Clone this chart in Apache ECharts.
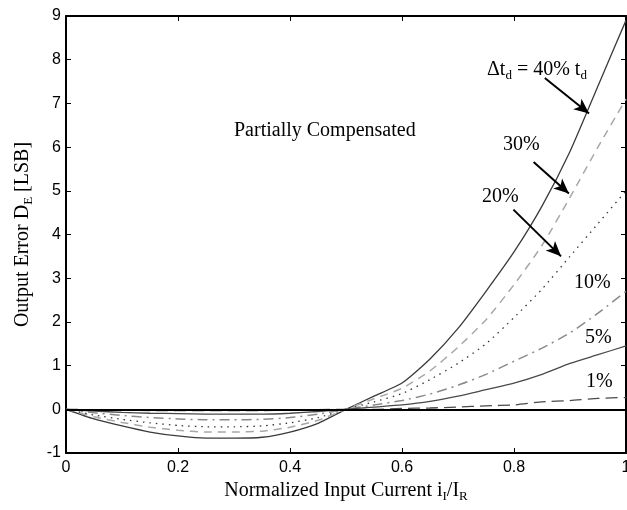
<!DOCTYPE html>
<html>
<head>
<meta charset="utf-8">
<script src="https://cdn.jsdelivr.net/npm/echarts@6/dist/echarts.min.js"></script>
<style>
  html, body { margin: 0; padding: 0; background: #fff; }
  #chart { width: 627px; height: 510px; }
</style>
</head>
<body>
<div id="chart"></div>
<script>
// normalized input current
var xs = [0, 0.05, 0.1, 0.15, 0.2, 0.25, 0.3, 0.35, 0.4, 0.45, 0.5,
          0.55, 0.6, 0.65, 0.7, 0.75, 0.8, 0.85, 0.9, 0.95, 1.0];

// output error per delay mismatch
var err40 = [0, -0.22, -0.38, -0.52, -0.61, -0.66, -0.66, -0.64, -0.52, -0.32, 0,
             0.3, 0.6, 1.15, 1.85, 2.7, 3.6, 4.65, 5.9, 7.4, 8.9];
var err30 = [0, -0.17, -0.30, -0.41, -0.48, -0.52, -0.52, -0.50, -0.41, -0.25, 0,
             0.24, 0.48, 0.88, 1.42, 2.05, 2.85, 3.75, 4.85, 6.0, 7.1];
var err20 = [0, -0.13, -0.23, -0.31, -0.37, -0.40, -0.40, -0.38, -0.31, -0.19, 0,
             0.17, 0.36, 0.68, 1.05, 1.5, 2.1, 2.75, 3.5, 4.25, 5.0];
var err10 = [0, -0.08, -0.14, -0.19, -0.22, -0.24, -0.24, -0.23, -0.19, -0.11, 0,
             0.1, 0.2, 0.35, 0.55, 0.8, 1.1, 1.4, 1.75, 2.2, 2.7];
var err5 = [0, -0.04, -0.07, -0.09, -0.10, -0.11, -0.11, -0.11, -0.09, -0.05, 0,
            0.05, 0.1, 0.18, 0.3, 0.45, 0.6, 0.8, 1.05, 1.25, 1.45];
var err1 = [0, -0.01, -0.02, -0.03, -0.03, -0.03, -0.03, -0.03, -0.02, -0.01, 0,
            0.0, 0.02, 0.03, 0.05, 0.08, 0.1, 0.17, 0.2, 0.25, 0.27];

var serif = 'Liberation Serif';
var sans = 'Liberation Sans';

function pairs(vals) {
  return xs.map(function (x, i) { return [x, vals[i]]; });
}

function curve(name, vals, color, type, width) {
  return {
    name: name,
    type: 'line',
    data: pairs(vals),
    showSymbol: false,
    smooth: 0.2,
    silent: true,
    lineStyle: { color: color, width: width, type: type },
    z: 3
  };
}

var chart = echarts.init(document.getElementById('chart'));

var subRich = {
  a: { fontFamily: serif, fontSize: 20, color: '#000', padding: [0, 0, 2, 0], verticalAlign: 'bottom' },
  s: { fontFamily: serif, fontSize: 13, color: '#000', verticalAlign: 'bottom' }
};

var series = [
  curve('40%', err40, '#3a3a3a', 'solid', 1.3),
  curve('30%', err30, '#a8a8a8', [8, 6], 1.5),
  curve('20%', err20, '#333333', [1.5, 5], 1.3),
  curve('10%', err10, '#8a8a8a', [10, 5, 2, 5], 1.5),
  curve('5%', err5, '#4a4a4a', 'solid', 1.3),
  curve('1%', err1, '#4a4a4a', [12, 6], 1.3)
];

// zero reference line
series[5].markLine = {
  silent: true,
  symbol: 'none',
  label: { show: false },
  lineStyle: { color: '#000', width: 2, type: 'solid' },
  data: [{ yAxis: 0 }]
};

// annotation arrows
series[0].markLine = {
  silent: true,
  symbol: ['none', 'arrow'],
  symbolSize: [10, 15],
  label: { show: false },
  lineStyle: { color: '#000', width: 2, type: 'solid' },
  data: [
    [{ coord: [0.855, 7.58] }, { coord: [0.934, 6.77] }],
    [{ coord: [0.835, 5.66] }, { coord: [0.898, 4.94] }],
    [{ coord: [0.799, 4.57] }, { coord: [0.884, 3.50] }]
  ]
};

var axisLine = { show: true, onZero: false, lineStyle: { color: '#000', width: 2 } };
var axisTick = { show: true, inside: true, length: 5, lineStyle: { color: '#000', width: 1 } };

var option = {
  animation: false,
  backgroundColor: '#fff',
  grid: { left: 66, right: 1, top: 16, bottom: 57, containLabel: false, outerBoundsMode: 'none' },
  xAxis: [
    {
      type: 'value', min: 0, max: 1, interval: 0.2,
      axisLine: axisLine, axisTick: axisTick, splitLine: { show: false },
      axisLabel: { color: '#000', fontFamily: sans, fontSize: 16, margin: 7 },
      name: '{a|Normalized Input Current i}{s|I}{a|/I}{s|R}',
      nameLocation: 'middle', nameGap: 27,
      nameTextStyle: { rich: subRich }
    },
    {
      type: 'value', min: 0, max: 1, interval: 0.2, position: 'top',
      axisLine: axisLine, axisTick: axisTick, splitLine: { show: false },
      axisLabel: { show: false }
    }
  ],
  yAxis: [
    {
      type: 'value', min: -1, max: 9, interval: 1,
      axisLine: axisLine, axisTick: axisTick, splitLine: { show: false },
      axisLabel: { color: '#000', fontFamily: sans, fontSize: 16, margin: 5 },
      name: '{a|Output Error D}{s|E}{a| [LSB]}',
      nameLocation: 'middle', nameGap: 31, nameRotate: 90,
      nameTextStyle: { rich: subRich }
    },
    {
      type: 'value', min: -1, max: 9, interval: 1, position: 'right',
      axisLine: axisLine, axisTick: axisTick, splitLine: { show: false },
      axisLabel: { show: false }
    }
  ],
  graphic: [
    { type: 'text', left: 234, top: 121, style: { text: 'Partially Compensated', font: '20px "Liberation Serif"', fill: '#000' } },
    { type: 'text', left: 487, top: 60, style: { text: '{a|\u0394t}{s|d}{a| = 40% t}{s|d}', rich: subRich } },
    { type: 'text', left: 503, top: 135, style: { text: '30%', font: '20px "Liberation Serif"', fill: '#000' } },
    { type: 'text', left: 482, top: 187, style: { text: '20%', font: '20px "Liberation Serif"', fill: '#000' } },
    { type: 'text', left: 574, top: 273, style: { text: '10%', font: '20px "Liberation Serif"', fill: '#000' } },
    { type: 'text', left: 585, top: 328, style: { text: '5%', font: '20px "Liberation Serif"', fill: '#000' } },
    { type: 'text', left: 586, top: 372, style: { text: '1%', font: '20px "Liberation Serif"', fill: '#000' } }
  ],
  series: series
};

chart.setOption(option);
</script>
</body>
</html>
